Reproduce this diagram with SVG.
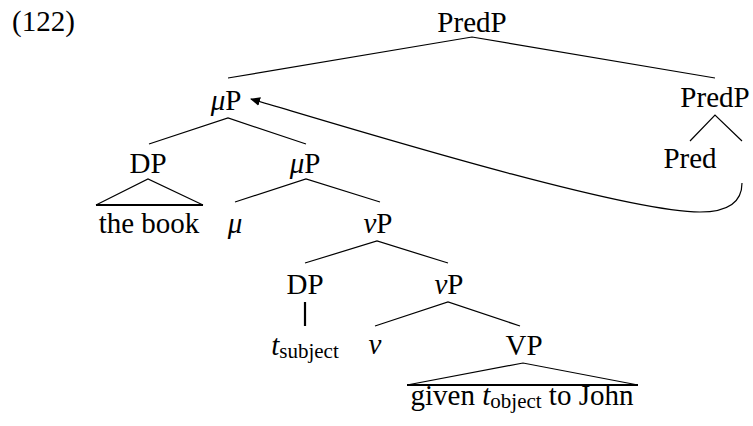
<svg xmlns="http://www.w3.org/2000/svg" width="753" height="426" viewBox="0 0 753 426">
<style>
text{font-family:"Liberation Serif","Times New Roman",serif;font-size:29px;fill:#000;text-anchor:middle}
.i{font-style:italic}
.sub{font-size:21px}
.l{stroke:#000;stroke-width:1.2;fill:none}
.b{stroke:#000;stroke-width:2.2;fill:none}
</style>
<defs>
<marker id="ah" viewBox="0 0 10 10" refX="9" refY="5" markerWidth="10" markerHeight="10" markerUnits="userSpaceOnUse" orient="auto">
<path d="M0,0.5 L10,5 L0,9.5 Z" fill="#000"/>
</marker>
</defs>
<text x="12" y="31" style="text-anchor:start">(122)</text>
<g id="n-predp-top"><text x="472" y="32">PredP</text></g>
<g id="n-mup1"><text x="226" y="110"><tspan class="i">μ</tspan>P</text></g>
<g id="n-predp-r"><text x="715" y="107">PredP</text></g>
<g id="n-pred"><text x="690" y="168">Pred</text></g>
<g id="n-dp1"><text x="148" y="173">DP</text></g>
<g id="n-mup2"><text x="305" y="173"><tspan class="i">μ</tspan>P</text></g>
<g id="n-thebook"><text x="149" y="233">the book</text></g>
<g id="n-mu"><text x="235" y="233" class="i">μ</text></g>
<g id="n-vp1"><text x="378" y="233"><tspan class="i">ν</tspan>P</text></g>
<g id="n-dp2"><text x="305" y="294">DP</text></g>
<g id="n-vp2"><text x="449" y="294"><tspan class="i">ν</tspan>P</text></g>
<g id="n-tsub"><text x="305" y="355"><tspan class="i">t</tspan><tspan class="sub" dy="3">subject</tspan></text></g>
<g id="n-v"><text x="375" y="354" class="i">ν</text></g>
<g id="n-vp3"><text x="524" y="355">VP</text></g>
<g id="n-given"><text x="522" y="405">given <tspan class="i">t</tspan><tspan class="sub" dy="3">object</tspan><tspan dy="-3"> to John</tspan></text></g>
<g id="connectors">
<path class="l" d="M228,78 L472,37 L715,78"/>
<path class="l" d="M149,144 L228,118 L306,144"/>
<path class="l" d="M690,141 L715,115 L742,141"/>
<path class="l" d="M96,205 L148,179 L203,205"/>
<path class="b" d="M96,205 L203,205"/>
<path class="l" d="M235,202 L306,179 L380,202"/>
<path class="l" d="M305,263 L377,241 L448,263"/>
<path class="b" d="M305,302 L305,326"/>
<path class="l" d="M375,326 L448,302 L520,326"/>
<path class="l" d="M407,385 L523,363 L638,385"/>
<path class="b" d="M407,385 L638,385"/>
<path class="l" d="M742,183 C742,203 728,212 700,212 C620,212 330,122 251,99" marker-end="url(#ah)"/>
</g>
</svg>
